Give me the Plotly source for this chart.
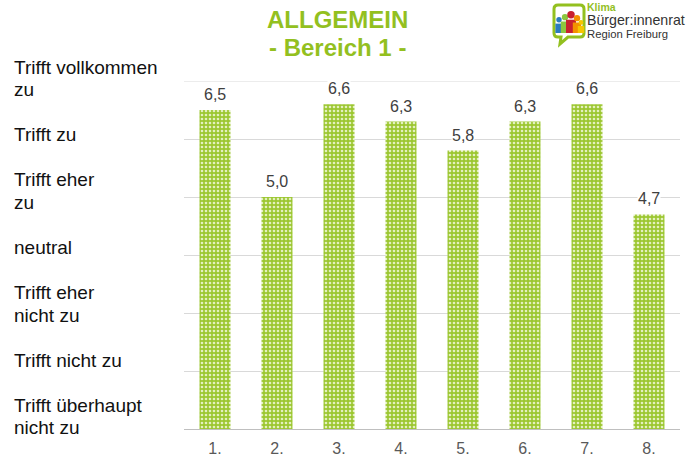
import plotly.graph_objects as go

# Survey results, scale 1 (Trifft überhaupt nicht zu) .. 7 (Trifft vollkommen zu)
categories = ["1.", "2.", "3.", "4.", "5.", "6.", "7.", "8."]
values = [6.5, 5.0, 6.6, 6.3, 5.8, 6.3, 6.6, 4.7]

# Scale labels, top (7) to bottom (1)
scale_labels = [
    "Trifft vollkommen<br>zu",
    "Trifft zu",
    "Trifft eher<br>zu",
    "neutral",
    "Trifft eher<br>nicht zu",
    "Trifft nicht zu",
    "Trifft überhaupt<br>nicht zu",
]

title_lines = ["ALLGEMEIN", "- Bereich 1 -"]

GREEN = "#93c01f"
BAR_GREEN = "#9cc731"

W, H = 688, 457
L, R, T, B = 184, 8, 81, 28
PW, PH = W - L - R, H - T - B


def px(x):
    return (x - L) / PW


def py(y):
    return (T + PH - y) / PH


fig = go.Figure()

fig.add_trace(go.Bar(
    x=categories,
    y=values,
    width=0.5,
    marker=dict(
        color=BAR_GREEN,
        line=dict(width=0),
        pattern=dict(shape=".", bgcolor=BAR_GREEN, fgcolor="#e4f0bf",
                     size=4, solidity=0.35, fillmode="replace"),
    ),
    hoverinfo="skip",
))

annotations = []

# value labels above each bar (category axis positions are indices)
for i, v in enumerate(values):
    annotations.append(dict(
        x=i, y=v, xref="x", yref="y",
        text=f"{v:.1f}".replace(".", ","),
        showarrow=False, yanchor="bottom", yshift=6,
        bgcolor="white", borderpad=0,
        font=dict(family="Liberation Sans, Arial", size=16, color="#404040"),
    ))

# scale labels on the left, one text row per line with blank rows between groups
row_pitch = 22.56
row = 0
for lab in scale_labels:
    for line in lab.split("<br>"):
        annotations.append(dict(
            x=px(12), y=py(67 + row * row_pitch), xref="paper", yref="paper",
            text=line, showarrow=False, xanchor="left", yanchor="middle",
            font=dict(family="Liberation Sans, Arial", size=19, color="#111111"),
        ))
        row += 1
    row += 1

# title
for i, t in enumerate(title_lines):
    annotations.append(dict(
        x=px(337), y=py(20 + i * 27), xref="paper", yref="paper",
        text=f"<b>{t}</b>", showarrow=False, xanchor="center", yanchor="middle",
        font=dict(family="Liberation Sans, Arial", size=24, color=GREEN),
    ))

# logo text
annotations += [
    dict(x=px(586), y=py(7), xref="paper", yref="paper", text="<b>Klima</b>",
         showarrow=False, xanchor="left", yanchor="middle", borderpad=0,
         font=dict(family="Liberation Sans", size=10.5, color=GREEN)),
    dict(x=px(586), y=py(20.5), xref="paper", yref="paper", text="Bürger:innenrat",
         showarrow=False, xanchor="left", yanchor="middle", borderpad=0,
         font=dict(family="Liberation Sans", size=14.2, color="#333333")),
    dict(x=px(586), y=py(34), xref="paper", yref="paper", text="Region Freiburg",
         showarrow=False, xanchor="left", yanchor="middle", borderpad=0,
         font=dict(family="Liberation Sans", size=11.3, color="#333333")),
]

shapes = []

# top gridline
shapes.append(dict(type="line", xref="paper", yref="y", x0=0, x1=1, y0=7, y1=7,
                   line=dict(color="#d9d9d9", width=1), layer="below"))

# logo: speech bubble outline
bx0, bx1, by0, by1 = 554, 584, 5, 37
bubble = (
    f"M {px(bx0+4)},{py(by0)} L {px(bx1-4)},{py(by0)} "
    f"Q {px(bx1)},{py(by0)} {px(bx1)},{py(by0+4)} "
    f"L {px(bx1)},{py(by1-4)} Q {px(bx1)},{py(by1)} {px(bx1-4)},{py(by1)} "
    f"L {px(bx0+14)},{py(by1)} L {px(bx0+6)},{py(44)} L {px(bx0+7)},{py(by1)} "
    f"L {px(bx0+4)},{py(by1)} Q {px(bx0)},{py(by1)} {px(bx0)},{py(by1-4)} "
    f"L {px(bx0)},{py(by0+4)} Q {px(bx0)},{py(by0)} {px(bx0+4)},{py(by0)} Z"
)
shapes.append(dict(type="path", xref="paper", yref="paper", path=bubble,
                   line=dict(color=GREEN, width=3), fillcolor="white", layer="above"))

# logo: little figures (head + body)
figures = [
    (559, 17, 3.6, "#2b7bbf"),
    (565, 14, 4.2, "#8cc63f"),
    (571, 11, 5.0, "#c8202f"),
    (577, 15, 4.2, "#f39200"),
    (581, 20, 3.2, "#f7c600"),
]
for cx, top, hw, col in figures:
    r = hw * 0.75
    shapes.append(dict(type="circle", xref="paper", yref="paper",
                       x0=px(cx - r), x1=px(cx + r), y0=py(top + 2 * r), y1=py(top),
                       fillcolor=col, line=dict(width=0), layer="above"))
    shapes.append(dict(type="rect", xref="paper", yref="paper",
                       x0=px(cx - hw), x1=px(cx + hw), y0=py(33), y1=py(top + 2 * r + 1.2),
                       fillcolor=col, line=dict(width=0), layer="above"))

fig.update_layout(
    width=W, height=H,
    margin=dict(l=L, r=R, t=T, b=B, pad=0, autoexpand=False),
    paper_bgcolor="white", plot_bgcolor="white",
    separators=",.",
    showlegend=False,
    bargap=0.5,
    xaxis=dict(
        type="category", range=[-0.5, len(categories) - 0.5],
        showgrid=False, zeroline=False, automargin=False,
        showline=True, linecolor="#bfbfbf", linewidth=1,
        ticks="outside", ticklen=5, tickcolor="rgba(0,0,0,0)",
        tickfont=dict(family="Liberation Sans, Arial", size=16, color="#595959"),
    ),
    yaxis=dict(
        range=[1, 7], dtick=1, tick0=1, showgrid=True, gridcolor="#d9d9d9",
        zeroline=False, showticklabels=False, showline=False, ticks="",
        automargin=False,
    ),
    annotations=annotations,
    shapes=shapes,
)

fig.write_html("out.html")
